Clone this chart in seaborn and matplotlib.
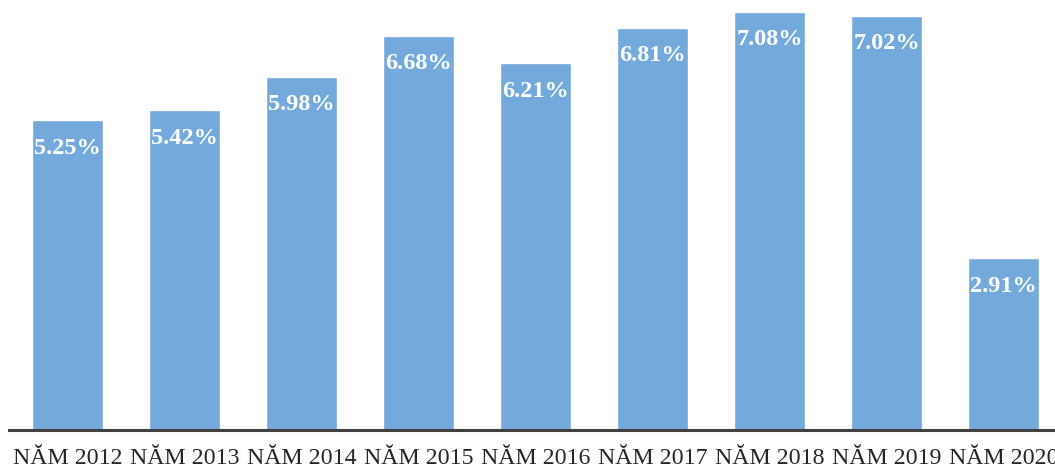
import pandas as pd
import numpy as np
import matplotlib.pyplot as plt
import seaborn as sns

years = ['NĂM 2012', 'NĂM 2013', 'NĂM 2014', 'NĂM 2015', 'NĂM 2016',
         'NĂM 2017', 'NĂM 2018', 'NĂM 2019', 'NĂM 2020']
growth = [5.25, 5.42, 5.98, 6.68, 6.21, 6.81, 7.08, 7.02, 2.91]

df = pd.DataFrame({'year': years, 'growth': growth})

sns.set_style('white')
plt.rcParams['font.family'] = ['Liberation Serif', 'DejaVu Serif']

fig = plt.figure(figsize=(10.55, 4.68), dpi=100)
W, H = 1055, 468
ax = fig.add_axes([9 / W, 38 / H, 1046 / W, 430 / H])

sns.barplot(data=df, x='year', y='growth', color='#74A9DB', saturation=1,
            width=0.61, ax=ax)

ax.set_xlim(-0.5, 1046 / 117 - 0.5)
ax.set_ylim(0, 430 / 59.04)

for i, v in enumerate(growth):
    ax.annotate(f'{v:.2f}%', (i, v), xytext=(0, -28), textcoords='offset pixels',
                ha='center', va='center', color='white', fontsize=17.5,
                fontweight='bold')

sns.despine(ax=ax, left=True, top=True, right=True)
ax.spines['bottom'].set_color('#404040')
ax.spines['bottom'].set_linewidth(2.2)
ax.set_yticks([])
ax.set_xlabel('')
ax.set_ylabel('')
ax.tick_params(axis='x', length=0, pad=13, labelsize=17.2, labelcolor='#262626')

fig.savefig('out.png', dpi=100)
